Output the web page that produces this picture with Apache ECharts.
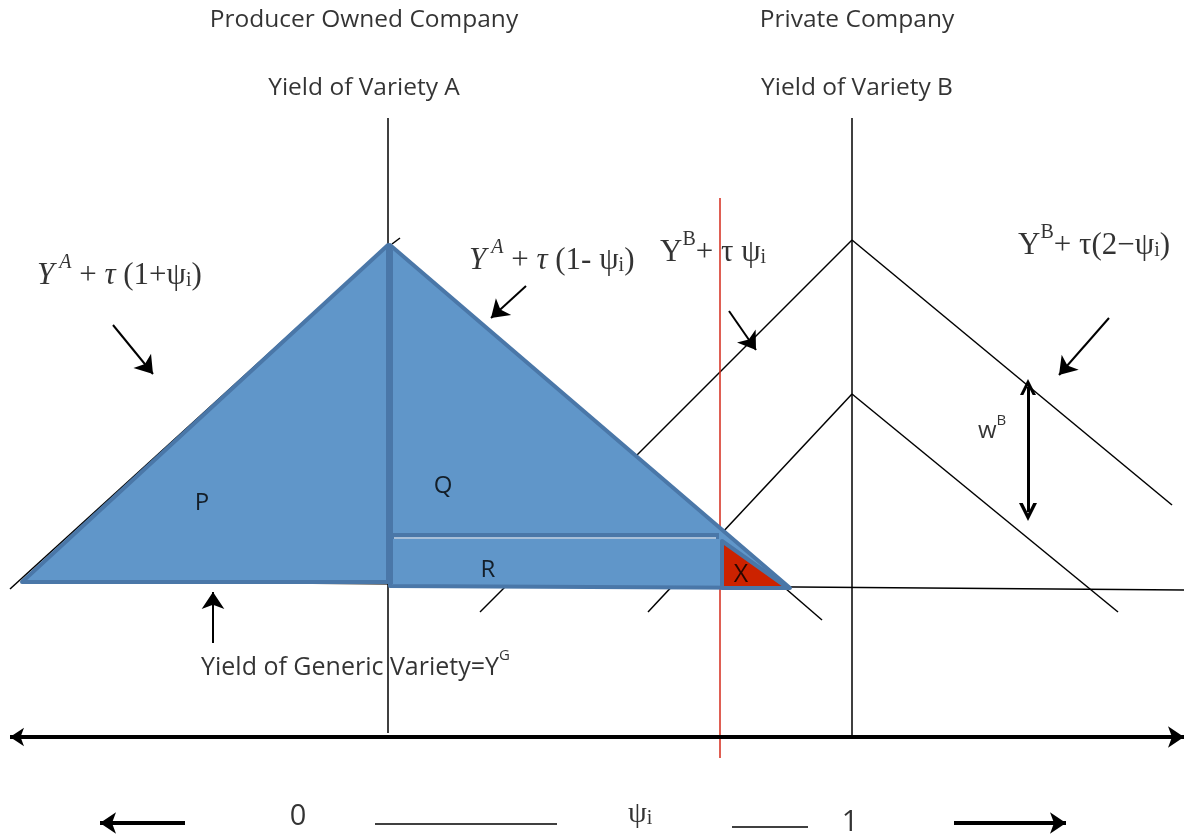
<!DOCTYPE html>
<html>
<head>
<meta charset="utf-8">
<script src="https://cdn.jsdelivr.net/npm/echarts@6/dist/echarts.min.js"></script>
<style>
  html, body { margin: 0; padding: 0; background: #fff; }
  #chart { width: 1184px; height: 838px; }
</style>
</head>
<body>
<div id="chart"></div>
<script>
// diagram drawn in a 1184 x 838 coordinate space (y grows downward)
const W = 1184, H = 838;

// thin black lines: axes of the two companies, generic yield, yield lines
const blackLines = [
  [[388, 118], [388, 733]],   // variety A axis
  [[852, 118], [852, 735]],   // variety B axis
  [[22, 581], [1184, 590]],   // yield of generic variety
  [[10, 589], [388, 245]],    // Y^A + tau(1+psi)
  [[388, 245], [822, 620]],   // Y^A + tau(1-psi)
  [[480, 612], [852, 240]],   // Y^B + tau psi
  [[852, 240], [1172, 505]],  // Y^B + tau(2-psi)
  [[648, 612], [852, 394]],   // lower B, left
  [[852, 394], [1118, 612]],  // lower B, right
  [[392, 244], [400, 238]]    // small tick at apex
];
const redLines = [[[720, 198], [720, 758]]];

// shaded regions
const blueRegions = [
  [[22, 582], [388, 245], [388, 582]],      // P
  [[390, 245], [790, 588], [390, 586]]      // Q + R + X outline
];
const redRegions = [
  [[722, 541], [722, 588], [788, 588]]      // X
];
const dividers = [
  [[390, 250], [390, 584]],
  [[392, 536], [719, 536]]
];
const dividerGlint = [[[394, 538], [716, 538]]];

// arrows
const singleArrows = [
  [[113, 325], [153, 374]],
  [[526, 286], [491, 318]],
  [[729, 311], [756, 350]],
  [[1109, 318], [1059, 375]],
  [[213, 643], [213, 592]]
];
const wideArrows = [
  [[185, 823], [100, 823]],
  [[954, 823], [1066, 823]]
];
const axisArrow = [[[10, 737], [1184, 737]]];
const wArrow = [[[1028, 387], [1028, 512]]];
const dashes = [
  [[375, 824], [557, 824]],
  [[732, 827], [808, 827]]
];

// text
const sansText = [
  'Producer Owned Company', 'Private Company', 'Yield of Variety A', 'Yield of Variety B',
  '{l|P}', '{l|Q}', '{l|R}', '{x|X}'
];
const sansPos = [
  [364, 20], [857, 20], [364, 88], [857, 88],
  [202, 503], [443, 486], [488, 570], [741, 575]
];
const mathText = [
  '{it|Y}{supi|A}{n| + }{it|τ}{n| (1+ψ}{sub|i}{n|)}',
  '{it|Y}{supi|A}{n| + }{it|τ}{n| (1- ψ}{sub|i}{n|)}',
  '{n|Y}{sup|B}{n|+ τ ψ}{sub|i}',
  '{n|Y}{sup|B}{n|+ τ(2−ψ}{sub|i}{n|)}'
];
const mathPos = [[37, 272], [469, 257], [660, 249], [1018, 242]];
const otherText = [
  '{s|Yield of Generic Variety=Y}{ssup|G}',
  '{w|w}{wsup|B}',
  '{big|0}',
  '{m|ψ}{msub|i}',
  '{big|1}'
];
const otherPos = [[201, 664], [978, 428], [298, 817], [628, 812], [850, 823]];
const otherAlign = ['left', 'left', 'center', 'left', 'center'];

const serif = 'Liberation Serif';
const sans = 'Open Sans';
const ink = '#000';
const rich = {
  it: { fontFamily: serif, fontStyle: 'italic', fontSize: 31, color: ink, lineHeight: 38, verticalAlign: 'bottom' },
  n: { fontFamily: serif, fontSize: 31, color: ink, lineHeight: 38, verticalAlign: 'bottom' },
  sup: { fontFamily: serif, fontSize: 20, color: ink, verticalAlign: 'top' },
  supi: { fontFamily: serif, fontStyle: 'italic', fontSize: 20, color: ink, verticalAlign: 'top', padding: [0, 0, 0, 5] },
  sub: { fontFamily: serif, fontSize: 20, color: ink, verticalAlign: 'bottom' },
  s: { fontFamily: sans, fontSize: 25, color: ink, lineHeight: 32, verticalAlign: 'bottom' },
  ssup: { fontFamily: sans, fontSize: 15, color: ink, verticalAlign: 'top' },
  w: { fontFamily: sans, fontSize: 24, color: ink, lineHeight: 30, verticalAlign: 'bottom' },
  wsup: { fontFamily: sans, fontSize: 15, color: ink, verticalAlign: 'top' },
  l: { fontFamily: sans, fontSize: 24, color: ink },
  x: { fontFamily: sans, fontSize: 25, color: ink },
  big: { fontFamily: sans, fontSize: 29, color: ink },
  m: { fontFamily: serif, fontSize: 30, color: ink, lineHeight: 34, verticalAlign: 'bottom' },
  msub: { fontFamily: serif, fontSize: 20, color: ink, verticalAlign: 'bottom' }
};

function segs(list) {
  return list.map(c => ({ coords: c }));
}
function lineSeries(list, color, width, z, extra) {
  return Object.assign({
    type: 'lines',
    coordinateSystem: 'cartesian2d',
    polyline: false,
    silent: true,
    z: z,
    lineStyle: { color: color, width: width, opacity: 1 },
    data: segs(list)
  }, extra || {});
}
function polySeries(list, fill, z) {
  return {
    type: 'custom',
    coordinateSystem: 'cartesian2d',
    silent: true,
    z: z,
    data: list.map((p, i) => [p[0][0], p[0][1], i]),
    renderItem: function (params, api) {
      const pts = list[params.dataIndex].map(p => api.coord(p));
      return {
        type: 'polygon',
        shape: { points: pts },
        style: { fill: fill, stroke: '#4a77a8', lineWidth: 4, lineJoin: 'round' }
      };
    }
  };
}
function textSeries(pos, texts, align, z) {
  return {
    type: 'scatter',
    silent: true,
    symbolSize: 0,
    z: z,
    data: pos.map((p, i) => ({
      value: p,
      label: {
        show: true,
        position: 'inside',
        align: Array.isArray(align) ? align[i] : align,
        verticalAlign: 'middle',
        formatter: texts[i],
        fontFamily: sans,
        fontSize: 24.5,
        color: ink,
        textBorderWidth: 0,
        textShadowBlur: 0,
        rich: rich
      }
    }))
  };
}

const chevron = 'path://M0,12 L6,0 L12,12 L9.5,12 L6,5 L2.5,12 Z';

const chart = echarts.init(document.getElementById('chart'));
chart.setOption({
  backgroundColor: '#fff',
  animation: false,
  grid: { left: 0, right: 0, top: 0, bottom: 0 },
  xAxis: { type: 'value', min: 0, max: W, show: false },
  yAxis: { type: 'value', min: 0, max: H, inverse: true, show: false },
  series: [
    lineSeries(blackLines, '#000', 1.5, 1),
    lineSeries(redLines, '#d42a1a', 1.5, 1),
    polySeries(blueRegions, '#6096c9', 2),
    lineSeries(dividers, '#4a77a8', 6, 3),
    lineSeries(dividerGlint, '#c9d7e8', 1.5, 3),
    polySeries(redRegions, '#cc2200', 4),
    lineSeries(singleArrows, '#000', 2, 5, { symbol: ['none', 'arrow'], symbolSize: [14, 17] }),
    lineSeries(wideArrows, '#000', 4, 5, { symbol: ['none', 'arrow'], symbolSize: [14, 16] }),
    lineSeries(axisArrow, '#000', 4, 5, { symbol: ['arrow', 'arrow'], symbolSize: [14, 16] }),
    lineSeries(wArrow, '#000', 3, 5, { symbol: [chevron, chevron], symbolSize: [16, 18] }),
    lineSeries(dashes, '#000', 1.5, 5),
    textSeries(sansPos, sansText, 'center', 6),
    textSeries(mathPos, mathText, 'left', 6),
    textSeries(otherPos, otherText, otherAlign, 6)
  ]
});
</script>
</body>
</html>
